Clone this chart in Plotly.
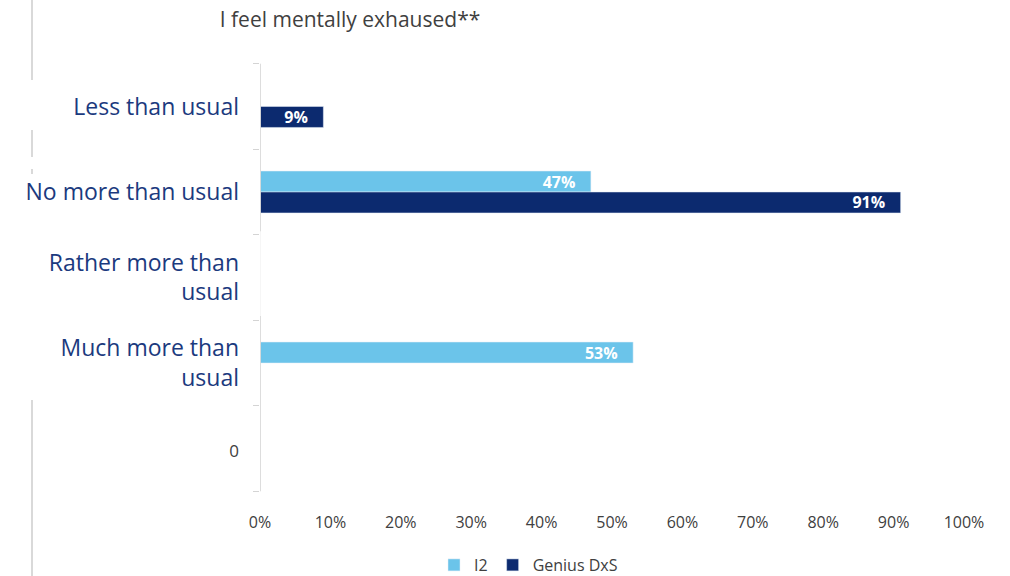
import plotly.graph_objects as go

# Survey answers, top to bottom
categories = [
    "Less than usual",
    "No more than usual",
    "Rather more than<br>usual",
    "Much more than<br>usual",
    "0",
]
tick_text = [
    "Less than usual",
    "No more than usual",
    "Rather more than<br>usual",
    "Much more than<br>usual",
    "<span style='color:#404040;font-size:17px'>0</span>",
]
# Shares per group (None = no answer given)
i2_values = [None, 0.47, None, 0.53, None]
genius_values = [0.09, 0.91, None, None, None]

x_ticks = [i / 10 for i in range(11)]
x_tick_labels = [f"{i * 10}%" for i in range(11)]

LIGHT = "#6BC4EA"
NAVY = "#0C2A6F"
LABEL_BLUE = "#1B3A7E"
GREY_TEXT = "#404040"
FONT = "Open Sans"

W, H = 1010, 576
M_L, M_R, M_T, M_B = 260, 46, 63, 84
PLOT_H = H - M_T - M_B


def py(pix):
    """Pixel row -> paper y."""
    return (H - M_B - pix) / PLOT_H


def px(pix):
    """Pixel column -> paper x."""
    return (pix - M_L) / (W - M_L - M_R)


def pct(v):
    return None if v is None else f"{round(v * 100)}%\u00a0\u00a0\u00a0"


label_font = dict(color="white", size=16, family=FONT, weight="bold")

fig = go.Figure()
fig.add_trace(go.Bar(
    name="I2", y=categories, x=i2_values, orientation="h",
    marker=dict(color=LIGHT),
    text=[pct(v) for v in i2_values],
    textposition="inside", insidetextanchor="end",
    textfont=label_font, constraintext="none",
))
fig.add_trace(go.Bar(
    name="Genius DxS", y=categories, x=genius_values, orientation="h",
    marker=dict(color=NAVY),
    text=[pct(v) for v in genius_values],
    textposition="inside", insidetextanchor="end",
    textfont=label_font, constraintext="none",
))

shapes = []
# left frame rule, broken by the label boxes
for a, b in [(0, 80), (130, 157), (169, 174), (400, 576)]:
    shapes.append(dict(type="line", xref="paper", yref="paper",
                       x0=px(32), x1=px(32), y0=py(a), y1=py(b),
                       line=dict(color="#D9D9D9", width=2)))
# category axis line
shapes.append(dict(type="line", xref="x", yref="y", x0=0, x1=0, y0=-0.5, y1=4.5,
                   line=dict(color="#F3F3F3", width=1.5)))
for a, b in [(-0.5, 1.46), (2.45, 4.5)]:
    shapes.append(dict(type="line", xref="x", yref="y", x0=0, x1=0, y0=a, y1=b,
                       line=dict(color="#D4D4D4", width=1.5)))

fig.update_layout(
    width=W, height=H,
    margin=dict(l=M_L, r=M_R, t=M_T, b=M_B, autoexpand=False),
    paper_bgcolor="white", plot_bgcolor="white",
    barmode="group", bargap=0.51, bargroupgap=0,
    font=dict(family=FONT, color=GREY_TEXT),
    title=dict(text="I feel mentally exhaused**", xref="container", x=350 / W,
               xanchor="center", yref="container", y=1 - 20 / H,
               yanchor="middle",
               font=dict(size=21, color=GREY_TEXT, family=FONT)),
    legend=dict(orientation="h", xref="container", x=434 / W, xanchor="left",
                yref="container", y=1 - 565 / H, yanchor="middle",
                font=dict(size=16, color=GREY_TEXT),
                itemwidth=30, traceorder="normal", itemclick=False),
    shapes=shapes,
    showlegend=True,
)
fig.update_xaxes(
    range=[0, 1], tickvals=x_ticks, ticktext=x_tick_labels,
    showgrid=False, zeroline=False, showline=False, ticks="",
    tickfont=dict(size=16, color=GREY_TEXT), ticklabelstandoff=19,
    fixedrange=True, automargin=False,
)
fig.update_yaxes(
    categoryorder="array", categoryarray=categories,
    tickvals=categories, ticktext=tick_text,
    autorange="reversed",
    showgrid=False, zeroline=False, showline=False,
    ticks="outside", tickson="boundaries", ticklen=6, tickcolor="#D4D4D4",
    tickfont=dict(size=23, color=LABEL_BLUE), ticklabelstandoff=20,
    fixedrange=True, automargin=False,
)

fig.write_html("out.html")
